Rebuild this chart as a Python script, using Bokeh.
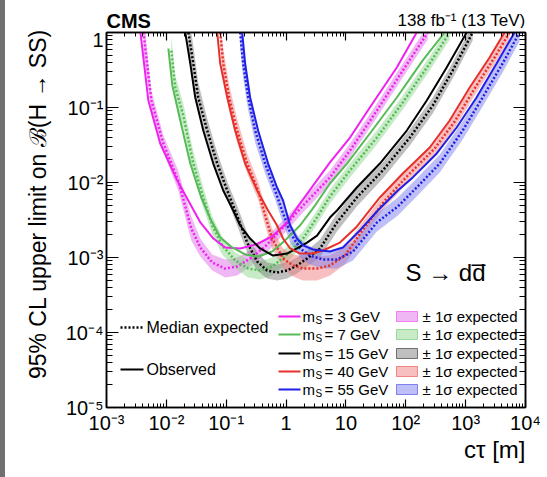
import math
from bokeh.plotting import figure
from bokeh.models import Range1d, LogAxis, FixedTicker, Label, Spacer
from bokeh.layouts import row, column
from bokeh.core.properties import value
from bokeh.embed import file_html
from bokeh.resources import INLINE

FONT = "Liberation Sans"

# ---------------- data (c*tau in m, 95% CL upper limit on B(H->SS)) ----------------
masses = ["3", "7", "15", "40", "55"]

m3_obs_ct = [3.69e-3, 5.0e-3, 7.9e-3, 1.52e-2, 3.7e-2, 6.1e-2, 9.6e-2, 0.171, 0.316, 0.585, 1.04, 1.71, 5.41, 11.7, 25.1, 70.8, 152]
m3_obs = [1.0, 0.124, 0.0331, 0.0106, 2.93e-3, 1.79e-3, 1.36e-3, 1.32e-3, 1.49e-3, 1.91e-3, 2.93e-3, 5.25e-3, 1.85e-2, 3.98e-2, 0.100, 0.341, 1.0]
m3_exp_ct = [4.14e-3, 5.62e-3, 8.91e-3, 1.58e-2, 2.61e-2, 3.69e-2, 5.84e-2, 9.6e-2, 0.152, 0.251, 0.447, 0.962, 1.92, 5.41, 11.7, 32.9, 89.1, 233]
m3_exp = [1.0, 0.124, 0.0331, 0.0106, 2.44e-3, 1.36e-3, 8.57e-4, 7.13e-4, 7.59e-4, 9.7e-4, 1.40e-3, 2.67e-3, 4.93e-3, 1.17e-2, 2.67e-2, 0.0912, 0.311, 1.0]
m3_hi = [1.85, 0.169, 0.0424, 0.0145, 3.52e-3, 1.79e-3, 1.10e-3, 9.4e-4, 1.0e-3, 1.24e-3, 1.79e-3, 3.31e-3, 6.12e-3, 0.0145, 0.0331, 0.113, 0.386, 1.24]
m3_lo = [0.541, 0.0912, 0.0259, 7.82e-3, 1.69e-3, 1.03e-3, 6.71e-4, 5.41e-4, 5.75e-4, 7.59e-4, 1.10e-3, 2.15e-3, 3.98e-3, 9.4e-3, 0.0216, 0.0736, 0.251, 0.807]

m7_obs_ct = [1.08e-2, 1.26e-2, 1.71e-2, 2.51e-2, 3.83e-2, 5.41e-2, 7.94e-2, 0.126, 0.207, 0.341, 0.585, 0.962, 1.71, 3.04, 5.41, 10.4, 25.1, 70.8, 192, 447]
m7_obs = [0.612, 0.197, 0.0671, 0.0179, 6.31e-3, 3.31e-3, 1.85e-3, 1.36e-3, 1.10e-3, 1.03e-3, 1.20e-3, 1.69e-3, 2.67e-3, 4.93e-3, 9.7e-3, 0.0179, 0.045, 0.136, 0.424, 1.0]
m7_exp_ct = [1.21e-2, 1.41e-2, 1.92e-2, 2.82e-2, 4.14e-2, 5.84e-2, 8.57e-2, 0.141, 0.233, 0.369, 0.585, 0.962, 1.92, 3.04, 5.41, 11.7, 32.9, 89.1, 251, 541]
m7_exp = [0.575, 0.185, 0.0782, 0.0179, 6.31e-3, 2.67e-3, 1.45e-3, 9.12e-4, 7.13e-4, 6.71e-4, 7.59e-4, 1.03e-3, 1.79e-3, 3.11e-3, 6.5e-3, 0.0145, 0.0398, 0.117, 0.386, 1.0]
m7_hi = [0.912, 0.267, 0.113, 0.0259, 8.57e-3, 3.52e-3, 1.91e-3, 1.17e-3, 9.4e-4, 8.85e-4, 1.0e-3, 1.32e-3, 2.22e-3, 3.86e-3, 8.07e-3, 0.0179, 0.0493, 0.145, 0.479, 1.24]
m7_lo = [0.363, 0.128, 0.0541, 0.0124, 4.64e-3, 2.03e-3, 1.10e-3, 7.13e-4, 5.41e-4, 5.09e-4, 5.75e-4, 8.07e-4, 1.45e-3, 2.51e-3, 5.25e-3, 0.0117, 0.0321, 0.094, 0.311, 0.807]

m15_obs_ct = [2.07e-2, 2.51e-2, 3.04e-2, 4.14e-2, 6.07e-2, 8.91e-2, 0.131, 0.171, 0.251, 0.369, 0.607, 1.04, 1.52, 2.24, 3.29, 5.41, 7.08, 15.2, 36.9, 104, 224, 482, 1040]
m15_obs = [1.0, 0.386, 0.136, 0.0493, 0.0179, 7.82e-3, 4.23e-3, 2.67e-3, 1.79e-3, 1.32e-3, 1.06e-3, 1.13e-3, 1.32e-3, 1.58e-3, 1.96e-3, 3.41e-3, 4.23e-3, 8.57e-3, 0.0179, 0.0493, 0.124, 0.341, 1.0]
m15_exp_ct = [2.33e-2, 2.82e-2, 3.41e-2, 4.82e-2, 7.08e-2, 0.104, 0.152, 0.224, 0.329, 0.482, 0.708, 1.04, 1.52, 2.24, 3.69, 7.08, 15.2, 41.4, 117, 282, 607, 1310]
m15_exp = [1.0, 0.386, 0.136, 0.0493, 0.0179, 7.82e-3, 3.63e-3, 1.58e-3, 8.85e-4, 6.71e-4, 6.31e-4, 6.71e-4, 7.82e-4, 9.7e-4, 1.32e-3, 2.93e-3, 6.31e-3, 0.0145, 0.0398, 0.106, 0.311, 1.0]
m15_hi = [1.74, 0.671, 0.215, 0.0713, 0.0251, 0.0103, 4.93e-3, 2.15e-3, 1.17e-3, 8.57e-4, 8.07e-4, 8.57e-4, 1.0e-3, 1.24e-3, 1.74e-3, 3.86e-3, 8.32e-3, 0.0185, 0.0509, 0.136, 0.398, 1.28]
m15_lo = [0.575, 0.222, 0.0858, 0.0341, 0.0128, 5.93e-3, 2.67e-3, 1.17e-3, 6.71e-4, 5.25e-4, 4.93e-4, 5.25e-4, 6.12e-4, 7.59e-4, 1.0e-3, 2.22e-3, 4.79e-3, 0.0113, 0.0311, 0.0832, 0.244, 0.782]

m40_obs_ct = [7.08e-2, 7.94e-2, 0.104, 0.141, 0.207, 0.329, 0.501, 0.708, 0.891, 1.17, 1.71, 2.82, 4.14, 7.94, 14.7, 36.9, 89.1, 251, 541, 1170, 2510, 4470]
m40_obs = [1.0, 0.386, 0.136, 0.0493, 0.0179, 7.82e-3, 4.23e-3, 2.67e-3, 1.79e-3, 1.32e-3, 1.13e-3, 1.13e-3, 1.24e-3, 1.58e-3, 2.51e-3, 6.31e-3, 0.0132, 0.0293, 0.0671, 0.185, 0.464, 1.0]
m40_exp_ct = [7.94e-2, 8.91e-2, 0.112, 0.152, 0.224, 0.341, 0.447, 0.585, 0.891, 1.31, 1.92, 3.29, 5.41, 9.62, 17.8, 44.7, 108, 304, 656, 1410, 3040, 5410]
m40_exp = [1.0, 0.386, 0.136, 0.0493, 0.0179, 7.82e-3, 3.63e-3, 1.79e-3, 9.7e-4, 7.82e-4, 7.13e-4, 7.13e-4, 7.82e-4, 1.06e-3, 2.15e-3, 5.75e-3, 0.0124, 0.0284, 0.065, 0.179, 0.464, 1.0]
m40_hi = [1.58, 0.612, 0.203, 0.0713, 0.0244, 0.0103, 4.93e-3, 2.44e-3, 1.32e-3, 1.10e-3, 1.03e-3, 1.03e-3, 1.06e-3, 1.40e-3, 2.75e-3, 7.13e-3, 0.0154, 0.0352, 0.0807, 0.222, 0.575, 1.24]
m40_lo = [0.631, 0.244, 0.0912, 0.0341, 0.0132, 5.93e-3, 2.67e-3, 1.32e-3, 7.13e-4, 5.58e-4, 4.93e-4, 4.93e-4, 5.75e-4, 8.07e-4, 1.69e-3, 4.64e-3, 0.01, 0.0229, 0.0525, 0.145, 0.374, 0.807]

m55_obs_ct = [0.185, 0.207, 0.251, 0.341, 0.501, 0.708, 0.891, 1.17, 1.52, 1.92, 2.82, 5.41, 8.91, 17.1, 34.1, 73.6, 131, 329, 708, 1520, 3290, 6560]
m55_obs = [1.0, 0.386, 0.136, 0.0493, 0.0179, 8.57e-3, 5.75e-3, 2.67e-3, 1.79e-3, 1.45e-3, 1.28e-3, 1.20e-3, 1.36e-3, 2.29e-3, 4.23e-3, 7.82e-3, 0.0117, 0.0244, 0.0541, 0.136, 0.386, 1.0]
m55_exp_ct = [0.171, 0.192, 0.233, 0.304, 0.447, 0.656, 0.857, 1.17, 1.71, 2.51, 4.14, 7.08, 13.1, 32.9, 73.6, 152, 369, 891, 1920, 4140, 7940]
m55_exp = [1.0, 0.386, 0.136, 0.0493, 0.0179, 7.82e-3, 4.23e-3, 2.15e-3, 1.32e-3, 1.06e-3, 9.4e-4, 9.4e-4, 1.20e-3, 2.93e-3, 4.79e-3, 8.57e-3, 0.0179, 0.0493, 0.136, 0.386, 1.0]
m55_hi = [1.58, 0.612, 0.203, 0.0713, 0.0244, 0.0103, 5.75e-3, 2.93e-3, 1.74e-3, 1.40e-3, 1.24e-3, 1.24e-3, 1.58e-3, 3.86e-3, 6.31e-3, 0.0113, 0.0236, 0.065, 0.179, 0.509, 1.32]
m55_lo = [0.631, 0.244, 0.0912, 0.0341, 0.0132, 5.93e-3, 3.11e-3, 1.58e-3, 1.0e-3, 8.07e-4, 7.13e-4, 7.13e-4, 9.12e-4, 2.22e-3, 3.63e-3, 6.5e-3, 0.0136, 0.0374, 0.103, 0.293, 0.759]

x_ticks = [1e-3, 1e-2, 1e-1, 1.0, 10.0, 100.0, 1000.0, 10000.0]
x_tick_labels = ["10\u207b\u00b3", "10\u207b\u00b2", "10\u207b\u00b9", "1", "10", "10\u00b2", "10\u00b3", "10\u2074"]
y_ticks = [1e-5, 1e-4, 1e-3, 1e-2, 1e-1, 1.0]
y_tick_labels = ["10\u207b\u2075", "10\u207b\u2074", "10\u207b\u00b3", "10\u207b\u00b2", "10\u207b\u00b9", "1"]

line_colors = ["#f020f0", "#55bb55", "#000000", "#e8302a", "#1f1fe8"]
band_colors = ["#e070e8", "#90d890", "#808080", "#f08080", "#8080f0"]

series = [
    (m3_obs_ct, m3_obs, m3_exp_ct, m3_exp, m3_lo, m3_hi),
    (m7_obs_ct, m7_obs, m7_exp_ct, m7_exp, m7_lo, m7_hi),
    (m15_obs_ct, m15_obs, m15_exp_ct, m15_exp, m15_lo, m15_hi),
    (m40_obs_ct, m40_obs, m40_exp_ct, m40_exp, m40_lo, m40_hi),
    (m55_obs_ct, m55_obs, m55_exp_ct, m55_exp, m55_lo, m55_hi),
]

# ---------------- page layout (pixels) ----------------
STRIP = 5            # grey strip at the left edge of the page
HEAD = 28            # header band (CMS, luminosity)
FOOT_TOP = 438       # footer band (x-axis title) starts here
FL, FR, FT, FB = 106, 525, 32, 407   # plot frame on the page
W = 547 - STRIP

def X(px):
    return 10 ** (-3 + (px - FL) * 7.0 / (FR - FL))
def Y(py):
    return 10 ** (-(py - FT) * 5.0 / (FB - FT))

p = figure(frame_width=FR - FL, frame_height=FB - FT, title=None,
           x_axis_type="log", y_axis_type="log",
           x_range=Range1d(1e-3, 1e4), y_range=Range1d(1e-5, 1),
           output_backend="svg", toolbar_location=None,
           min_border_left=FL - STRIP, min_border_right=547 - FR,
           min_border_top=FT - HEAD, min_border_bottom=FOOT_TOP - FB)
p.xgrid.visible = False
p.ygrid.visible = False
p.outline_line_color = "black"
p.outline_line_width = 1.5
p.background_fill_color = "white"
p.border_fill_color = "white"

x_minor = [k * 10.0 ** d for d in range(-3, 4) for k in range(2, 10)]
y_minor = [k * 10.0 ** d for d in range(-5, 0) for k in range(2, 10)]

def style_axis(ax, major_in, minor_in, labels=True):
    ax.major_tick_in = major_in
    ax.major_tick_out = 0
    ax.minor_tick_in = minor_in
    ax.minor_tick_out = 0
    ax.axis_line_color = "black"
    ax.axis_line_width = 1.5
    ax.major_tick_line_width = 1.2
    ax.minor_tick_line_width = 1
    ax.major_tick_line_color = "black"
    ax.minor_tick_line_color = "black"
    ax.major_label_text_font = FONT
    ax.major_label_text_color = "black"
    if labels:
        ax.major_label_text_font_size = "20px"
    else:
        ax.major_label_text_font_size = "1px"
        ax.major_label_text_alpha = 0.0
        ax.major_label_standoff = 0

xa = p.xaxis[0]
xa.ticker = FixedTicker(ticks=x_ticks, minor_ticks=x_minor)
xa.major_label_overrides = dict(zip(x_ticks, x_tick_labels))
style_axis(xa, 8, 4)
xa.major_label_standoff = 4

ya = p.yaxis[0]
ya.ticker = FixedTicker(ticks=y_ticks, minor_ticks=y_minor)
ya.major_label_overrides = dict(zip(y_ticks, y_tick_labels))
style_axis(ya, 12, 6)
ya.major_label_standoff = 3
ya.axis_label = "\u00a0" * 5 + "95% CL upper limit on \u212c(H \u2192 SS)"
ya.axis_label_text_font = FONT
ya.axis_label_text_font_size = "23px"
ya.axis_label_text_font_style = "normal"
ya.axis_label_text_color = "black"
ya.axis_label_standoff = 12

top = LogAxis(ticker=FixedTicker(ticks=x_ticks, minor_ticks=x_minor))
style_axis(top, 8, 4, labels=False)
p.add_layout(top, "above")
right = LogAxis(ticker=FixedTicker(ticks=y_ticks, minor_ticks=y_minor))
style_axis(right, 12, 6, labels=False)
p.add_layout(right, "right")

# bands
for (oc, o, ec, e, lo, hi), bc in zip(series, band_colors):
    p.varea(x=ec, y1=lo, y2=hi, fill_color=bc, fill_alpha=0.5)
# expected (dotted)
for (oc, o, ec, e, lo, hi), lc in zip(series, line_colors):
    p.line(ec, e, line_color=lc, line_width=2.5, line_dash="2 2")
# observed (solid)
for (oc, o, ec, e, lo, hi), lc in zip(series, line_colors):
    p.line(oc, o, line_color=lc, line_width=2)

# ---------------- texts inside the frame (vertically centred on the given page y) ----------------
def lab(px, py, text, size, align="left", style="normal"):
    p.add_layout(Label(x=X(px), y=Y(py), text=text, text_font=FONT, text_font_size=size,
                       text_align=align, text_baseline="middle", text_font_style=style,
                       text_color="black"))

lab(405, 271.5, "S \u2192 dd\u0305", "24px")

# left legend
p.line([X(120), X(143)], [Y(327), Y(327)], line_color="black", line_width=2.5, line_dash="2 2")
lab(146, 327, "Median expected", "16px")
p.line([X(120), X(143)], [Y(369), Y(369)], line_color="black", line_width=2)
lab(146, 369, "Observed", "16px")

# right legend
rows_py = [316, 334, 353, 371, 389]
for m, ry, lc, bc in zip(masses, rows_py, line_colors, band_colors):
    p.line([X(278), X(300)], [Y(ry), Y(ry)], line_color=lc, line_width=2)
    lab(302, ry, "m", "15px")
    lab(315, ry + 4, "S", "10px")
    lab(324, ry, "= %s GeV" % m, "15px")
    p.quad(left=X(396), right=X(417), top=Y(ry - 5), bottom=Y(ry + 5),
           fill_color=bc, fill_alpha=0.5, line_color=lc, line_alpha=0.5, line_width=1)
    lab(422, ry, "\u00b1 1\u03c3 expected", "15px")

# ---------------- header / footer bands for the texts above and below the frame ----------------
# (their frames are aligned with the main frame by the column layout, so x is in page pixels)
def band_fig(h):
    f = figure(frame_width=FR - FL, frame_height=h, x_range=Range1d(FL, FR), y_range=Range1d(h, 0),
               output_backend="svg", toolbar_location=None, title=None,
               x_axis_location=None, y_axis_location=None,
               min_border_left=FL - STRIP, min_border_right=547 - FR,
               min_border_top=0, min_border_bottom=0)
    f.outline_line_color = None
    f.grid.visible = False
    f.background_fill_color = "white"
    f.border_fill_color = "white"
    return f

header = band_fig(HEAD)
header.text(x=[FL], y=[20.8], text=["CMS"], text_font=value(FONT),
            text_font_size="20px", text_font_style="bold", text_color="black",
            text_align="left", text_baseline="middle")
header.text(x=[FR], y=[19.8], text=["138 fb\u207b\u00b9 (13 TeV)"], text_font=value(FONT),
            text_font_size="17px", text_color="black",
            text_align="right", text_baseline="middle")

footer = band_fig(477 - FOOT_TOP)
footer.text(x=[FR], y=[448.5 - FOOT_TOP], text=["c\u03c4 [m]"], text_font=value(FONT),
            text_font_size="24px", text_color="black",
            text_align="right", text_baseline="middle")

strip = Spacer(width=STRIP, height=477, styles={"background-color": "#707070"})
layout = row(strip, column(header, p, footer))

open("out.html", "w").write(file_html(layout, INLINE))
